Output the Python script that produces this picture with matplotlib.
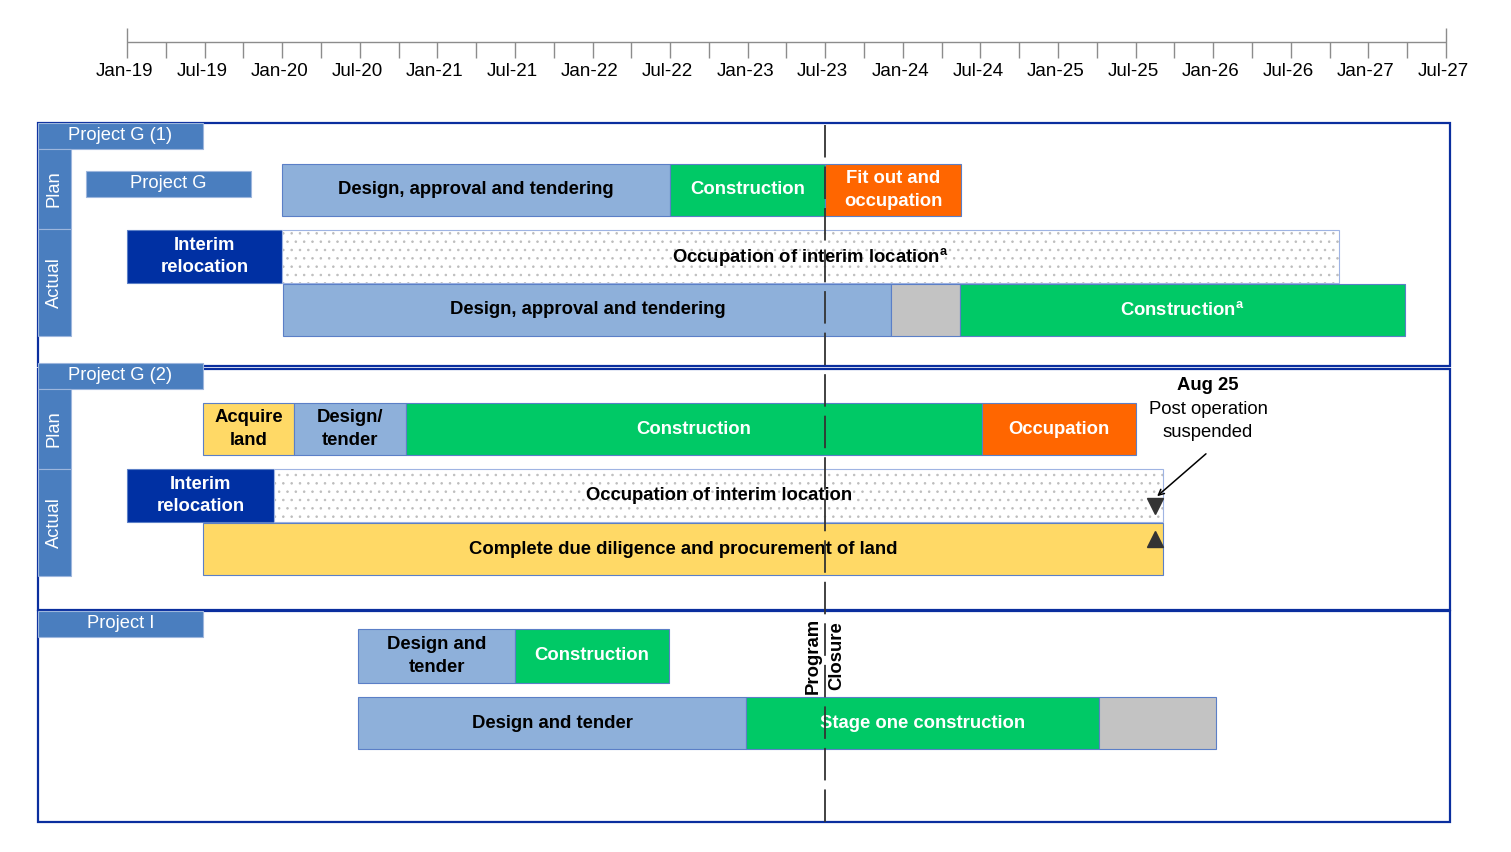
import matplotlib.pyplot as plt

plt.rcParams['font.family'] = ['Liberation Sans', 'DejaVu Sans']
plt.rcParams['mathtext.default'] = 'regular'
plt.rcParams['hatch.linewidth'] = 0.6

# time is counted in months from Jan-2019
tick_labels = ['Jan-19', 'Jul-19', 'Jan-20', 'Jul-20', 'Jan-21', 'Jul-21', 'Jan-22', 'Jul-22',
               'Jan-23', 'Jul-23', 'Jan-24', 'Jul-24', 'Jan-25', 'Jul-25', 'Jan-26', 'Jul-26',
               'Jan-27', 'Jul-27']
closure_month = 54      # Program Closure, Jul-23
suspend_month = 79.5    # Aug 25

g1_plan_labels = ['Design, approval and tendering', 'Construction', 'Fit out and\noccupation']
g1_plan_start = [12, 42, 54]
g1_plan_end = [42, 54, 64.5]

g1_interim_start = [0, 12]
g1_interim_end = [12, 93.7]

g1_actual_labels = ['Design, approval and tendering', '', 'Construction$^{a}$']
g1_actual_start = [12.1, 59.1, 64.4]
g1_actual_end = [59.1, 64.4, 98.8]

g2_plan_labels = ['Acquire\nland', 'Design/\ntender', 'Construction', 'Occupation']
g2_plan_start = [5.9, 12.9, 21.6, 66.1]
g2_plan_end = [12.9, 21.6, 66.1, 78.0]

g2_interim_start = [0, 11.4]
g2_interim_end = [11.4, 80.1]

g2_land_start = 5.9
g2_land_end = 80.1

i_plan_labels = ['Design and\ntender', 'Construction']
i_plan_start = [17.9, 30.0]
i_plan_end = [30.0, 41.9]

i_actual_labels = ['Design and tender', 'Stage one construction', '']
i_actual_start = [17.9, 47.9, 75.2]
i_actual_end = [47.9, 75.2, 84.2]

# colours
LBLUE = '#8EB0DA'
GREEN = '#00C966'
ORANGE = '#FF6600'
DBLUE = '#0030A3'
GREY = '#C3C3C3'
YELLOW = '#FFD966'
TAB = '#4A7EBF'
FRAME = '#0A2E9E'
EDGE = '#5B7FC7'

W, H = 1511, 852
x0px, x1px = 127, 1446
ppm = (x1px - x0px) / 102.0

fig = plt.figure(figsize=(W / 100, H / 100), dpi=100)

# layout layer in pixel units
lay = fig.add_axes([0, 0, 1, 1])
lay.set_xlim(0, W)
lay.set_ylim(H, 0)
lay.axis('off')

# data layer in months
ax = fig.add_axes([0, 0, 1, 1])
ax.set_xlim(-x0px / ppm, (W - x0px) / ppm)
ax.set_ylim(H, 0)
ax.axis('off')
ax.patch.set_visible(False)

# ---- timeline
ax.hlines(42, 0, 102, color='#8c8c8c', lw=1)
for m in range(0, 103, 3):
    top = 28 if m in (0, 102) else 42
    ax.vlines(m, top, 58, color='#8c8c8c', lw=1)
for i, lab in enumerate(tick_labels):
    ax.text(i * 6 - 0.2, 71, lab, ha='center', va='center', fontsize=13.5)

# ---- section frames
for (y0, y1) in [(123, 366), (369, 610), (611, 822)]:
    lay.add_patch(plt.Rectangle((38, y0), 1412, y1 - y0, fill=False, ec=FRAME, lw=1.6))

def tab(y0, y1, text, x0=38, x1=203):
    lay.add_patch(plt.Rectangle((x0, y0), x1 - x0, y1 - y0, fc=TAB, ec='#9DB6DD', lw=0.8))
    lay.text((x0 + x1) / 2, (y0 + y1) / 2, text, ha='center', va='center',
             color='white', fontsize=13.2)

def side(y0, y1, text):
    lay.add_patch(plt.Rectangle((38, y0), 33, y1 - y0, fc=TAB, ec='#9DB6DD', lw=0.8))
    lay.text(54.5, (y0 + y1) / 2, text, ha='center', va='center', color='white',
             fontsize=13.2, rotation=90)

tab(123, 149, 'Project G (1)')
side(149, 229, 'Plan')
side(229, 336, 'Actual')
tab(171, 197, 'Project G', x0=86, x1=251)
tab(363, 389, 'Project G (2)')
side(389, 469, 'Plan')
side(469, 576, 'Actual')
tab(611, 637, 'Project I')

# ---- bars
def bars(y0, y1, starts, ends, colors, labels, tcolors):
    for s, e, c, lab, tc in zip(starts, ends, colors, labels, tcolors):
        ax.barh((y0 + y1) / 2, e - s, left=s, height=y1 - y0, color=c, edgecolor=EDGE, lw=0.8)
        if lab:
            ax.text((s + e) / 2, (y0 + y1) / 2, lab, ha='center', va='center', color=tc,
                    fontsize=13.3, fontweight='bold', linespacing=1.45)

def dotted(y0, y1, s, e, lab):
    ax.barh((y0 + y1) / 2, e - s, left=s, height=y1 - y0, color='white',
            edgecolor='#bdbdbd', hatch='..', lw=0)
    ax.barh((y0 + y1) / 2, e - s, left=s, height=y1 - y0, fill=False,
            edgecolor='#9FB4E3', lw=0.8)
    ax.text((s + e) / 2, (y0 + y1) / 2, lab, ha='center', va='center', color='black',
            fontsize=13.3, fontweight='bold')

# Project G (1)
bars(164, 216, g1_plan_start, g1_plan_end, [LBLUE, GREEN, ORANGE], g1_plan_labels,
     ['black', 'white', 'white'])
bars(230, 283, g1_interim_start[:1], g1_interim_end[:1], [DBLUE], ['Interim\nrelocation'], ['white'])
dotted(230, 283, g1_interim_start[1], g1_interim_end[1], 'Occupation of interim location$^{a}$')
bars(284, 336, g1_actual_start, g1_actual_end, [LBLUE, GREY, GREEN], g1_actual_labels,
     ['black', 'black', 'white'])

# Project G (2)
bars(403, 455, g2_plan_start, g2_plan_end, [YELLOW, LBLUE, GREEN, ORANGE], g2_plan_labels,
     ['black', 'black', 'white', 'white'])
bars(469, 522, g2_interim_start[:1], g2_interim_end[:1], [DBLUE], ['Interim\nrelocation'], ['white'])
dotted(469, 522, g2_interim_start[1], g2_interim_end[1], 'Occupation of interim location')
bars(523, 575, [g2_land_start], [g2_land_end], [YELLOW],
     ['Complete due diligence and procurement of land'], ['black'])

# Project I
bars(629, 683, i_plan_start, i_plan_end, [LBLUE, GREEN], i_plan_labels, ['black', 'white'])
bars(697, 749, i_actual_start, i_actual_end, [LBLUE, GREEN, GREY], i_actual_labels,
     ['black', 'white', 'black'])

# ---- program closure
ax.vlines(closure_month, 125, 822, color='#333333', lw=1.3, linestyles=(0, (18, 5)), zorder=5)
ax.text(closure_month, 694, 'Program\nClosure', rotation=90, ha='center', va='bottom',
        fontsize=13.3, fontweight='bold', linespacing=1.5, multialignment='center')

# ---- suspension markers
ax.plot([suspend_month], [506], marker='v', ms=12, color='#333333', zorder=6)
ax.plot([suspend_month], [539], marker='^', ms=12, color='#333333', zorder=6)
ax.text(suspend_month + 4.1, 385, 'Aug 25', ha='center', va='center', fontsize=13.3,
        fontweight='bold')
ax.text(suspend_month + 4.1, 421, 'Post operation\nsuspended', ha='center', va='center',
        fontsize=13.3, linespacing=1.45)
ax.annotate('', xy=(suspend_month, 498), xytext=(suspend_month + 4.1, 452),
            arrowprops=dict(arrowstyle='->', color='black', lw=1.1))

fig.savefig('out.png', dpi=100)
